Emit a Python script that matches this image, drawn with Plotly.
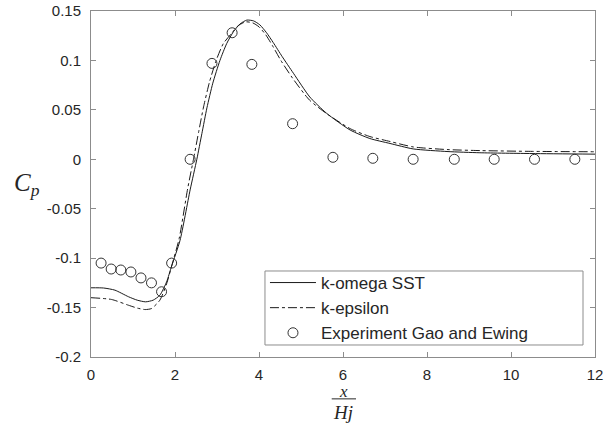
import plotly.graph_objects as go

# ---- data ----
sst_x = [0, 0.3, 0.57, 0.89, 1.1, 1.3, 1.48, 1.64, 1.8, 1.92, 2.12, 2.36, 2.52, 2.64, 2.76, 2.9,
         3.07, 3.23, 3.39, 3.55, 3.71, 3.87, 4.02, 4.18, 4.34, 4.55, 4.82, 5.21, 5.61, 6.17, 6.64,
         7.12, 7.67, 8.5, 9.26, 10.5, 12]
sst_y = [-0.130, -0.1302, -0.1324, -0.139, -0.1425, -0.1442, -0.1425, -0.1375, -0.124, -0.108,
         -0.082, -0.031, 0.0, 0.026, 0.052, 0.077, 0.1, 0.117, 0.129, 0.137, 0.1408, 0.140, 0.136,
         0.128, 0.118, 0.104, 0.087, 0.063, 0.0465, 0.0296, 0.021, 0.016, 0.0105, 0.0078, 0.0066,
         0.0058, 0.0052]

ke_x = [0, 0.49, 0.89, 1.1, 1.29, 1.44, 1.64, 1.8, 1.92, 2.1, 2.3, 2.44, 2.56, 2.68, 2.82, 2.98,
        3.15, 3.36, 3.5, 3.68, 3.85, 4.0, 4.16, 4.32, 4.52, 4.8, 5.2, 5.6, 6.17, 6.64, 7.12, 7.67,
        8.5, 9.26, 10.5, 12]
ke_y = [-0.140, -0.1418, -0.1476, -0.1505, -0.152, -0.151, -0.1425, -0.126, -0.108, -0.08, -0.03,
        0.0, 0.027, 0.053, 0.078, 0.1, 0.117, 0.128, 0.135, 0.139, 0.138, 0.134, 0.126, 0.115, 0.1,
        0.082, 0.06, 0.0465, 0.031, 0.023, 0.018, 0.0125, 0.0098, 0.0088, 0.0080, 0.0076]

exp_x = [0.24, 0.48, 0.71, 0.95, 1.19, 1.44, 1.68, 1.92, 2.36, 2.88, 3.36, 3.83, 4.80, 5.76, 6.71,
         7.67, 8.65, 9.60, 10.56, 11.52]
exp_y = [-0.105, -0.111, -0.112, -0.114, -0.120, -0.125, -0.134, -0.105, 0.0, 0.097, 0.128, 0.096,
         0.036, 0.002, 0.001, 0.0, 0.0, 0.0, 0.0, 0.0]

x_ticks = [0, 2, 4, 6, 8, 10, 12]
x_ticktext = ["0", "2", "4", "6", "8", "10", "12"]
y_ticks = [-0.2, -0.15, -0.1, -0.05, 0, 0.05, 0.1, 0.15]
y_ticktext = ["-0.2", "-0.15", "-0.1", "-0.05", "0", "0.05", "0.1", "0.15"]

names = ["k-omega SST", "k-epsilon", "Experiment Gao and Ewing"]

# ---- figure ----
axis_col = "#8c8c8c"
text_col = "#262626"
line_col = "#1a1a1a"

fig = go.Figure()
fig.add_trace(go.Scatter(x=sst_x, y=sst_y, mode="lines", name=names[0],
                         line=dict(color=line_col, width=1, shape="spline", smoothing=0.6)))
fig.add_trace(go.Scatter(x=ke_x, y=ke_y, mode="lines", name=names[1],
                         line=dict(color=line_col, width=1, dash="dashdot", shape="spline", smoothing=0.6)))
fig.add_trace(go.Scatter(x=exp_x, y=exp_y, mode="markers", name=names[2],
                         marker=dict(symbol="circle-open", size=10, color="#333333",
                                     line=dict(width=1, color="#333333"))))

axis_common = dict(showline=True, linecolor=axis_col, linewidth=1, mirror="ticks",
                   ticks="inside", ticklen=5, tickcolor=axis_col, showgrid=False,
                   zeroline=False, automargin=False,
                   tickfont=dict(family="Liberation Sans", size=15, color=text_col))

fig.update_xaxes(range=[0, 12], tickvals=x_ticks, ticktext=x_ticktext, ticklabelstandoff=4,
                 **axis_common)
fig.update_yaxes(range=[-0.2, 0.15], tickvals=y_ticks, ticktext=y_ticktext, ticklabelstandoff=6,
                 **axis_common)

fig.update_layout(
    width=605, height=423, autosize=False,
    margin=dict(l=91, r=10, t=11, b=66, autoexpand=False),
    plot_bgcolor="white", paper_bgcolor="white",
    legend=dict(x=0.3452, y=0.1416, xanchor="left", yanchor="middle",
                bgcolor="rgba(0,0,0,0)", borderwidth=0,
                font=dict(family="Liberation Sans", size=17, color=text_col),
                itemwidth=46, tracegroupgap=0),
    annotations=[
        dict(text="<i>C</i><sub><i>p</i></sub>", xref="paper", yref="paper",
             x=-0.097, xanchor="right", y=0.5, showarrow=False,
             font=dict(family="Liberation Serif", size=25, color=text_col)),
        dict(text="<i>x</i>", xref="paper", yref="paper", x=0.5, y=-0.1, yanchor="middle",
             showarrow=False, font=dict(family="Liberation Serif", size=17, color=text_col)),
        dict(text="<i>Hj</i>", xref="paper", yref="paper", x=0.5, y=-0.124, yanchor="top",
             showarrow=False, font=dict(family="Liberation Serif", size=19, color=text_col)),
    ],
    shapes=[
        dict(type="line", xref="paper", yref="paper", x0=0.4776, x1=0.5258,
             y0=-0.121, y1=-0.121, line=dict(color=text_col, width=1)),
        dict(type="rect", xref="paper", yref="paper", x0=0.3452, x1=0.9762,
             y0=0.0347, y1=0.2486, layer="above", fillcolor="white",
             line=dict(color=axis_col, width=1)),
    ],
)

fig.write_html("out.html")
